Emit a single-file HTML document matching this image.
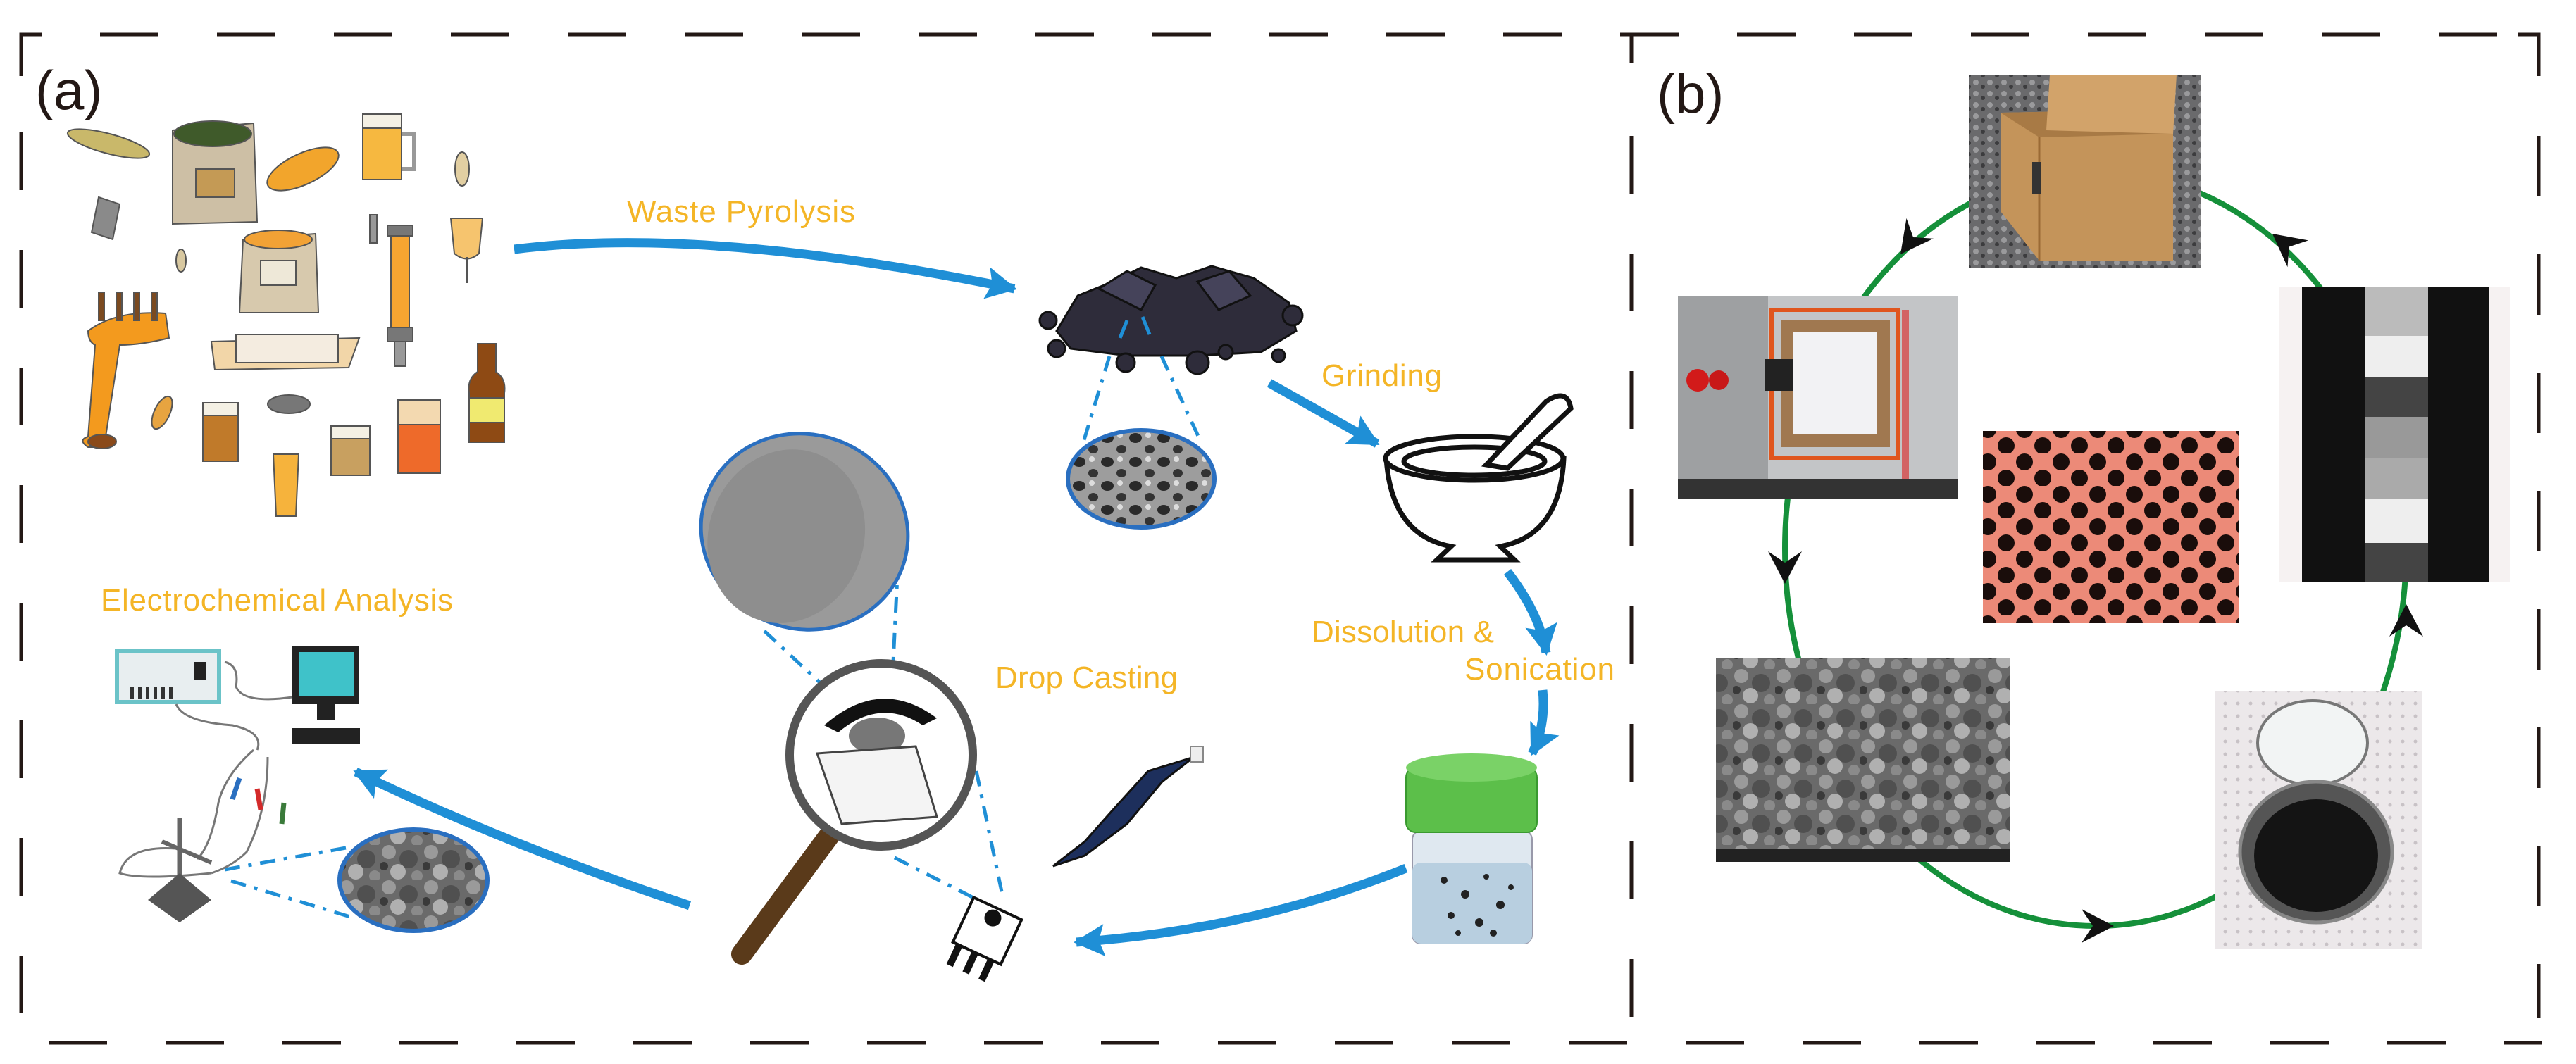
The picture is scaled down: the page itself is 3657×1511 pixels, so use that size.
<!DOCTYPE html>
<html><head><meta charset="utf-8"><style>
html,body{margin:0;padding:0;background:#fff;}
svg{display:block}
.lbl{font-family:"Liberation Sans",sans-serif;fill:#f4b526;font-size:44px;}
</style></head><body>
<svg width="3657" height="1511" viewBox="0 0 3657 1511" xmlns="http://www.w3.org/2000/svg">
<defs>
<marker id="bh" markerUnits="userSpaceOnUse" markerWidth="60" markerHeight="60" refX="40" refY="25" orient="auto">
<path d="M0,2 L44,25 L0,48 L8,25 Z" fill="#1f8fd6"/>
</marker>
<pattern id="dots" width="52" height="46" patternUnits="userSpaceOnUse">
<circle cx="14" cy="12" r="12" fill="#1a0d0b"/><circle cx="40" cy="35" r="12" fill="#1a0d0b"/>
</pattern>
<pattern id="sem" width="60" height="50" patternUnits="userSpaceOnUse">
<rect width="60" height="50" fill="#6a6a6a"/>
<circle cx="12" cy="10" r="10" fill="#9a9a9a"/><circle cx="40" cy="20" r="13" fill="#505050"/>
<circle cx="25" cy="38" r="11" fill="#b0b0b0"/><circle cx="52" cy="44" r="8" fill="#8a8a8a"/>
<circle cx="5" cy="30" r="6" fill="#3a3a3a"/>
</pattern>
<pattern id="grav" width="20" height="16" patternUnits="userSpaceOnUse">
<rect width="20" height="16" fill="#6a6a6c"/><circle cx="5" cy="5" r="4" fill="#9a9a9c"/><circle cx="15" cy="11" r="3" fill="#3c3c3e"/>
</pattern>
<pattern id="fab" width="18" height="18" patternUnits="userSpaceOnUse">
<rect width="18" height="18" fill="#ece8ea"/><circle cx="9" cy="9" r="2.5" fill="#c8c2c6"/>
</pattern>
<pattern id="por" width="40" height="34" patternUnits="userSpaceOnUse">
<rect width="40" height="34" fill="#9d9d9d"/><ellipse cx="12" cy="10" rx="9" ry="7" fill="#2a2a2a"/><ellipse cx="32" cy="26" rx="7" ry="6" fill="#333"/><circle cx="30" cy="6" r="4" fill="#ddd"/>
</pattern>
</defs>

<!-- dashed frame -->
<g stroke="#231815" stroke-width="5" fill="none">
<path d="M30,108 L30,49 L59,49"/>
<path d="M3575,49 L3604,49 L3604,108"/>
<line x1="142" y1="49" x2="3560" y2="49" stroke-dasharray="83 83"/>
<line x1="69" y1="1481" x2="3609" y2="1481" stroke-dasharray="83 83"/>
<line x1="30" y1="188" x2="30" y2="1481" stroke-dasharray="82 85"/>
<line x1="2316" y1="49" x2="2316" y2="1481" stroke-dasharray="40 104 82 85 82 85 82 85 82 85 82 85 82 85 82 85 82 85 82 85"/>
<line x1="3604" y1="193" x2="3604" y2="1445" stroke-dasharray="86 82"/>
</g>

<text x="50" y="155" font-family="Liberation Sans,sans-serif" font-size="78" fill="#231815">(a)</text>
<text x="2352" y="160" font-family="Liberation Sans,sans-serif" font-size="78" fill="#231815">(b)</text>

<!-- ===== panel a: brewery items ===== -->
<g stroke="#555" stroke-width="2">
<ellipse cx="154" cy="204" rx="60" ry="14" fill="#c9b86a" transform="rotate(15 154 204)"/>
<path d="M245,185 L360,175 L365,315 L245,318 Z" fill="#cdbfa5"/>
<ellipse cx="302" cy="190" rx="55" ry="18" fill="#3f5a2a"/>
<rect x="278" y="240" width="55" height="40" fill="#c49a55"/>
<ellipse cx="430" cy="240" rx="55" ry="22" fill="#f2a52c" transform="rotate(-25 430 240)"/>
<rect x="515" y="175" width="55" height="80" fill="#f6b840"/><rect x="515" y="162" width="55" height="20" fill="#f4f0e4"/>
<path d="M570,190 h18 v50 h-18" fill="none" stroke="#999" stroke-width="6"/>
<ellipse cx="656" cy="240" rx="10" ry="24" fill="#e2cfa2"/>
<path d="M140,280 L170,290 L160,340 L130,330 Z" fill="#8a8a8a"/>
<ellipse cx="257" cy="370" rx="7" ry="16" fill="#d8c8a0"/>
<path d="M345,340 L448,332 L452,444 L340,444 Z" fill="#d7c9ad"/>
<ellipse cx="395" cy="340" rx="48" ry="13" fill="#f2a235"/>
<rect x="370" y="370" width="50" height="35" fill="#eee8d8"/>
<rect x="555" y="330" width="26" height="140" fill="#f7a531"/>
<rect x="550" y="320" width="36" height="15" fill="#777"/><rect x="550" y="465" width="36" height="20" fill="#777"/>
<rect x="560" y="485" width="16" height="35" fill="#999"/>
<rect x="525" y="305" width="10" height="40" fill="#999"/>
<path d="M640,310 h45 l-5,50 q-17,15 -35,0 z" fill="#f6c46e"/><line x1="663" y1="365" x2="663" y2="402"/>
<path d="M125,470 q40,-30 110,-25 l5,35 q-40,10 -70,10 l-20,130 q15,5 0,15 h-25 q-15,-10 0,-15 l10,-130 q-10,-5 -10,-20 z" fill="#f39a1e"/>
<rect x="140" y="415" width="8" height="40" fill="#7b4a20"/><rect x="165" y="415" width="8" height="40" fill="#7b4a20"/><rect x="190" y="415" width="8" height="40" fill="#7b4a20"/><rect x="215" y="415" width="8" height="40" fill="#7b4a20"/>
<ellipse cx="145" cy="627" rx="20" ry="10" fill="#8a4a1a"/>
<path d="M300,485 L510,480 L495,522 L305,525 Z" fill="#f2d6a8"/><rect x="335" y="475" width="145" height="40" fill="#f4ece0"/>
<ellipse cx="230" cy="586" rx="11" ry="25" fill="#e7a440" transform="rotate(25 230 586)"/>
<rect x="288" y="585" width="50" height="70" fill="#c07a2a"/><rect x="288" y="572" width="50" height="18" fill="#f4f0e4"/>
<ellipse cx="410" cy="574" rx="30" ry="13" fill="#777"/>
<path d="M388,645 h36 l-4,88 h-28 z" fill="#f6b33c"/>
<rect x="470" y="620" width="55" height="55" fill="#c8a060"/><rect x="470" y="605" width="55" height="18" fill="#f4f0e4"/>
<rect x="565" y="600" width="60" height="72" fill="#ee6a2a"/><rect x="565" y="568" width="60" height="35" fill="#f3d9b0"/>
<path d="M678,488 h26 v40 q15,10 12,30 v70 h-50 v-70 q-3,-20 12,-30 z" fill="#8e4a14"/><rect x="666" y="565" width="50" height="35" fill="#f0ea70"/>
</g>

<!-- labels -->
<text class="lbl" x="890" y="315" textLength="324">Waste Pyrolysis</text>
<text class="lbl" x="1876" y="548" textLength="171">Grinding</text>
<text class="lbl" x="1862" y="912" textLength="259">Dissolution &amp;</text>
<text class="lbl" x="2079" y="965" textLength="213">Sonication</text>
<text class="lbl" x="1413" y="977" textLength="259">Drop Casting</text>
<text class="lbl" x="143" y="867" textLength="500">Electrochemical Analysis</text>

<!-- blue arrows -->
<g stroke="#1f8fd6" stroke-width="13" fill="none" marker-end="url(#bh)">
<path d="M730,354 Q1000,320 1440,410"/>
<path d="M1802,544 L1955,630"/>
<path d="M2140,812 Q2185,870 2195,927"/>
<path d="M2190,980 Q2195,1030 2175,1070"/>
<path d="M1996,1233 Q1780,1320 1528,1338"/>
<path d="M979,1286 Q720,1200 505,1096"/>
</g>

<!-- coal -->
<g fill="#2e2c3a" stroke="#111" stroke-width="3">
<path d="M1500,470 L1530,420 L1580,400 L1620,380 L1670,395 L1720,378 L1780,395 L1830,430 L1840,470 L1790,500 L1700,505 L1600,505 L1520,495 Z"/>
<path d="M1560,410 L1600,385 L1640,405 L1620,440 Z" fill="#45435a"/>
<path d="M1700,400 L1745,385 L1775,420 L1730,440 Z" fill="#45435a"/>
<circle cx="1488" cy="455" r="12"/><circle cx="1500" cy="495" r="12"/><circle cx="1598" cy="515" r="13"/><circle cx="1700" cy="515" r="16"/><circle cx="1740" cy="500" r="10"/><circle cx="1815" cy="505" r="9"/><circle cx="1835" cy="448" r="14"/>
</g>
<path d="M1600,455 l-10,25 M1622,450 l10,25" stroke="#1f8fd6" stroke-width="5"/>
<g stroke="#1f8fd6" stroke-width="5" fill="none" stroke-dasharray="22 12 5 12">
<path d="M1575,506 L1538,628"/><path d="M1649,506 L1705,628"/>
<path d="M1085,896 L1168,973"/><path d="M1275,797 L1265,1003"/>
<path d="M1386,1095 L1423,1271"/><path d="M1270,1218 L1390,1279"/>
<path d="M319,1235 L491,1204"/><path d="M328,1251 L504,1304"/>
</g>
<ellipse cx="1620" cy="680" rx="104" ry="69" fill="url(#por)" stroke="#2a6fc0" stroke-width="6"/>

<!-- big oval -->
<ellipse cx="1142" cy="755" rx="148" ry="138" fill="#9a9a9a" stroke="#2a6fc0" stroke-width="5" transform="rotate(20 1142 755)"/>
<ellipse cx="1120" cy="770" rx="110" ry="125" fill="#8e8e8e" transform="rotate(20 1142 755)"/>

<!-- mortar -->
<g fill="#fff" stroke="#111" stroke-width="7">
<path d="M1968,651 Q1975,760 2060,776 L2040,795 L2150,795 L2130,776 Q2215,760 2220,651 Z"/>
<ellipse cx="2093" cy="651" rx="126" ry="31"/>
<ellipse cx="2093" cy="655" rx="100" ry="20"/>
<path d="M2110,660 L2195,570 Q2225,550 2230,580 L2140,665 Z"/>
</g>

<!-- jar -->
<rect x="2005" y="1180" width="170" height="160" rx="12" fill="#dfe8f0" stroke="#99a" stroke-width="2"/>
<rect x="2005" y="1225" width="170" height="115" rx="12" fill="#b8cfe0"/>
<g fill="#222"><circle cx="2050" cy="1250" r="5"/><circle cx="2080" cy="1270" r="6"/><circle cx="2110" cy="1245" r="4"/><circle cx="2130" cy="1285" r="6"/><circle cx="2060" cy="1300" r="5"/><circle cx="2100" cy="1310" r="6"/><circle cx="2145" cy="1260" r="4"/><circle cx="2070" cy="1325" r="4"/><circle cx="2120" cy="1325" r="5"/></g>
<rect x="1996" y="1090" width="186" height="92" rx="14" fill="#5cbf4a" stroke="#3a9a30" stroke-width="2"/>
<ellipse cx="2089" cy="1090" rx="93" ry="20" fill="#7ad267"/>

<!-- magnifier -->
<path d="M1177,1187 L1053,1355" stroke="#5a3a1a" stroke-width="30" stroke-linecap="round"/>
<circle cx="1251" cy="1072" r="130" fill="#fff" stroke="#555" stroke-width="12"/>
<path d="M1170,1030 Q1250,960 1330,1020 L1310,1030 Q1250,990 1190,1040 Z" fill="#111"/>
<ellipse cx="1245" cy="1045" rx="40" ry="26" fill="#777"/>
<path d="M1160,1070 L1300,1060 L1330,1160 L1195,1170 Z" fill="#f4f4f4" stroke="#444" stroke-width="3"/>

<!-- pipette -->
<path d="M1695,1075 L1650,1110 L1600,1170 L1540,1215 L1495,1230 L1540,1195 L1580,1150 L1630,1095 Z" fill="#1d2f5c" stroke="#111" stroke-width="3"/>
<rect x="1690" y="1060" width="18" height="22" fill="#eee" stroke="#888" stroke-width="2"/>
<!-- electrode -->
<g transform="rotate(25 1395 1330)">
<rect x="1360" y="1285" width="75" height="70" fill="#fff" stroke="#111" stroke-width="4"/>
<circle cx="1397" cy="1300" r="12" fill="#111"/>
<rect x="1365" y="1355" width="10" height="32" fill="#111"/><rect x="1390" y="1355" width="10" height="32" fill="#111"/><rect x="1415" y="1355" width="10" height="32" fill="#111"/>
</g>

<!-- electrochem setup -->
<rect x="166" y="925" width="145" height="72" fill="#e8eef0" stroke="#6bc3c8" stroke-width="6"/>
<rect x="275" y="940" width="18" height="25" fill="#222"/>
<g fill="#333"><rect x="185" y="975" width="5" height="18"/><rect x="196" y="975" width="5" height="18"/><rect x="207" y="975" width="5" height="18"/><rect x="218" y="975" width="5" height="18"/><rect x="229" y="975" width="5" height="18"/><rect x="240" y="975" width="5" height="18"/></g>
<rect x="415" y="918" width="95" height="82" fill="#222"/><rect x="424" y="926" width="78" height="62" fill="#3fc2c9"/>
<rect x="450" y="1000" width="25" height="22" fill="#222"/><rect x="415" y="1034" width="96" height="22" fill="#222"/>
<g fill="none" stroke="#777" stroke-width="3">
<path d="M319,940 Q340,945 335,975 Q345,1000 415,990"/>
<path d="M250,1000 Q260,1025 330,1030 Q375,1040 365,1065"/>
<path d="M360,1065 Q320,1100 310,1140 Q300,1200 280,1220"/>
<path d="M380,1075 Q380,1150 350,1210 Q330,1230 300,1240"/>
<path d="M300,1240 Q200,1250 170,1240 Q180,1200 250,1205"/>
</g>
<path d="M340,1105 l-10,30" stroke="#2a6fc0" stroke-width="7"/>
<path d="M365,1120 l5,30" stroke="#d42a2a" stroke-width="7"/>
<path d="M403,1140 l-3,30" stroke="#3a7a3a" stroke-width="7"/>
<line x1="255" y1="1162" x2="255" y2="1270" stroke="#666" stroke-width="7"/>
<line x1="230" y1="1195" x2="300" y2="1225" stroke="#666" stroke-width="6"/>
<path d="M255,1240 L300,1278 L255,1310 L210,1278 Z" fill="#555"/>
<ellipse cx="587" cy="1250" rx="105" ry="72" fill="url(#sem)" stroke="#2a6fc0" stroke-width="6"/>

<!-- ===== panel b ===== -->
<ellipse cx="2975" cy="779" rx="441" ry="536" fill="none" stroke="#15903a" stroke-width="8"/>
<g fill="#111">
<path d="M0,0 L-46,-24 L-30,0 L-46,24 Z" transform="translate(2698,361) rotate(127)"/>
<path d="M0,0 L-46,-24 L-30,0 L-46,24 Z" transform="translate(2534,829) rotate(90)"/>
<path d="M0,0 L-46,-24 L-30,0 L-46,24 Z" transform="translate(3001,1315) rotate(0)"/>
<path d="M0,0 L-46,-24 L-30,0 L-46,24 Z" transform="translate(3416,858) rotate(-90)"/>
<path d="M0,0 L-46,-24 L-30,0 L-46,24 Z" transform="translate(3226,332) rotate(-142)"/>
</g>

<!-- box photo -->
<rect x="2795" y="106" width="329" height="275" fill="url(#grav)"/>
<path d="M2840,160 L3085,155 L3085,370 L2895,370 L2840,300 Z" fill="#c4945a"/>
<path d="M2840,160 L2895,195 L3085,190 L3085,155 Z" fill="#a87a45"/>
<path d="M2910,106 L3090,106 L3085,190 L2905,185 Z" fill="#d2a36a"/>
<path d="M2895,195 L2895,370" stroke="#9a6a35" stroke-width="3"/>
<rect x="2885" y="230" width="12" height="45" fill="#333"/>

<!-- furnace -->
<rect x="2382" y="421" width="398" height="287" fill="#9ea0a2"/>
<rect x="2510" y="421" width="270" height="287" fill="#c3c5c7"/>
<rect x="2515" y="440" width="180" height="210" fill="none" stroke="#e0561e" stroke-width="6"/>
<rect x="2528" y="455" width="155" height="180" fill="#a07850"/>
<rect x="2545" y="472" width="120" height="145" fill="#f2f2f4"/>
<rect x="2505" y="510" width="40" height="45" fill="#222"/>
<circle cx="2410" cy="540" r="16" fill="#d21a1a"/><circle cx="2440" cy="540" r="14" fill="#c81818"/>
<rect x="2382" y="680" width="398" height="28" fill="#333"/>
<rect x="2700" y="440" width="10" height="240" fill="#d22" opacity="0.6"/>

<!-- red dots -->
<rect x="2815" y="612" width="363" height="273" fill="#ec8a78"/>
<rect x="2815" y="612" width="363" height="273" fill="url(#dots)"/>

<!-- strip -->
<rect x="3235" y="408" width="329" height="419" fill="#f6f2f2"/>
<rect x="3268" y="408" width="266" height="419" fill="#111"/>
<rect x="3358" y="408" width="89" height="69" fill="#bbb"/>
<rect x="3358" y="477" width="89" height="58" fill="#eee"/>
<rect x="3358" y="535" width="89" height="57" fill="#444"/>
<rect x="3358" y="592" width="89" height="58" fill="#999"/>
<rect x="3358" y="650" width="89" height="58" fill="#aaa"/>
<rect x="3358" y="708" width="89" height="63" fill="#eee"/>
<rect x="3358" y="771" width="89" height="56" fill="#444"/>

<!-- SEM -->
<rect x="2436" y="935" width="418" height="289" fill="url(#sem)"/>
<rect x="2436" y="1205" width="418" height="19" fill="#222"/>

<!-- jar photo -->
<rect x="3144" y="981" width="294" height="366" fill="url(#fab)"/>
<ellipse cx="3283" cy="1055" rx="78" ry="60" fill="#f2f4f4" stroke="#777" stroke-width="4"/>
<ellipse cx="3288" cy="1210" rx="108" ry="100" fill="#555" stroke="#888" stroke-width="5"/>
<ellipse cx="3288" cy="1215" rx="88" ry="80" fill="#141414"/>
</svg>
</body></html>
